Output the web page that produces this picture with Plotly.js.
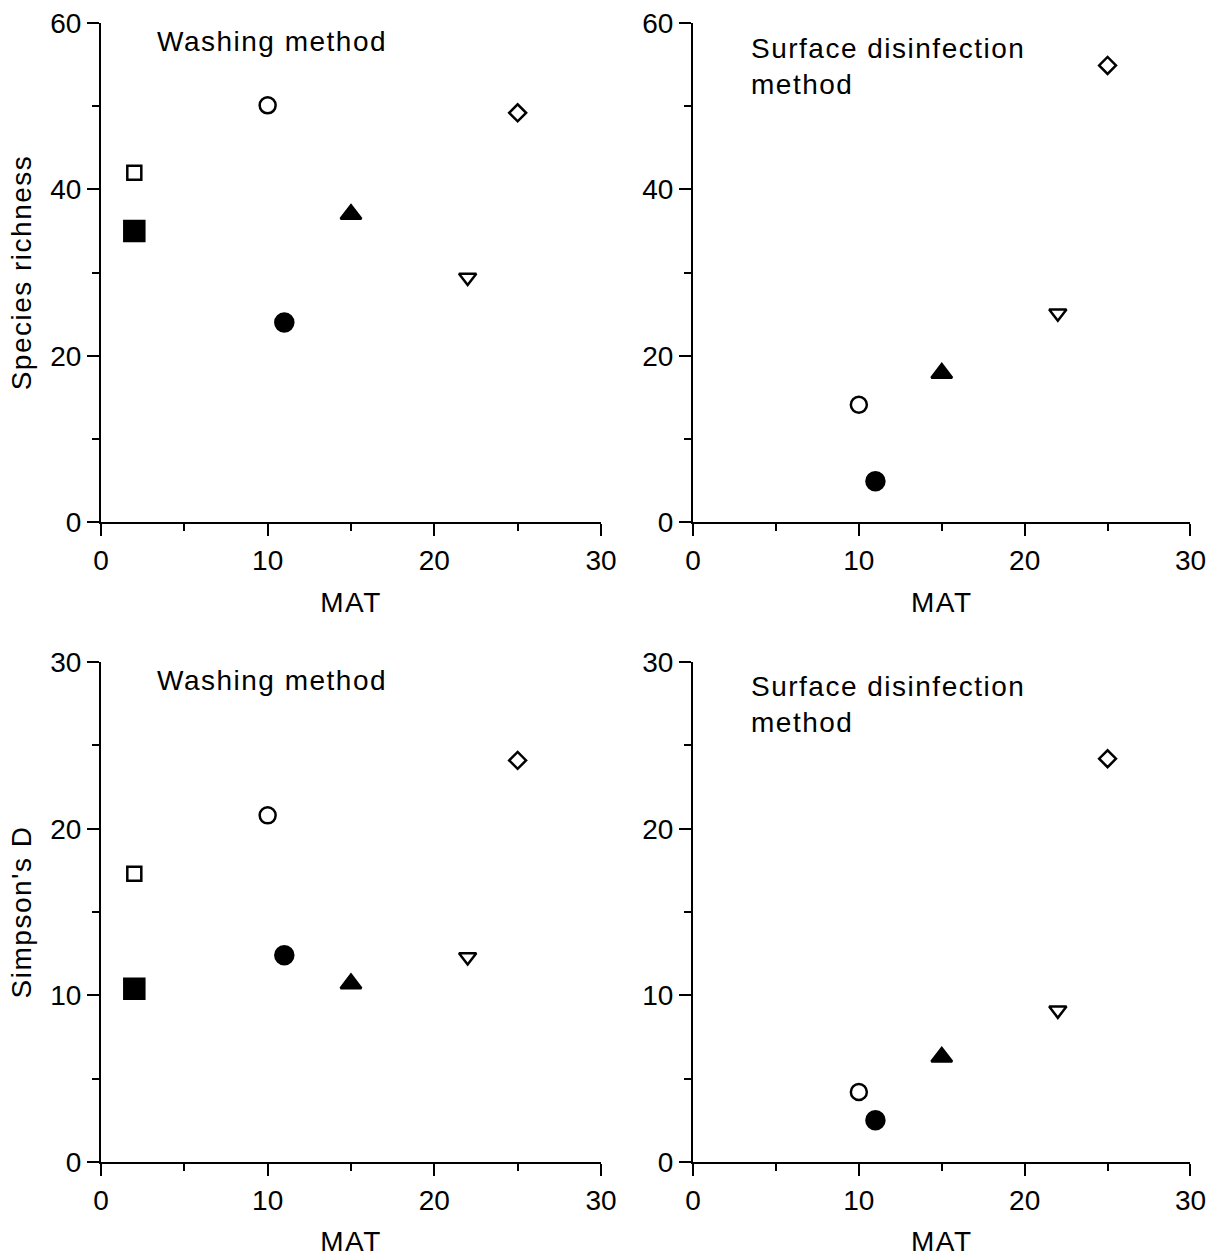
<!DOCTYPE html>
<html><head><meta charset="utf-8">
<script src="https://cdn.plot.ly/plotly-3.0.1.min.js"></script>
<style>body{margin:0;padding:0;background:#fff}#c{width:1221px;height:1257px}
#c .annotation-text, #c .xtitle, #c .x2title, #c .x3title, #c .x4title, #c .ytitle, #c .y3title { letter-spacing: 1.5px; }
</style>
</head><body><div id="c"></div>
<script>
// Data
const mat = [2, 2, 10, 11, 15, 22, 25];
const symbols = ['square-open', 'square', 'circle-open', 'circle', 'triangle-up', 'triangle-down-open', 'diamond-open'];
const sizes = [14, 20, 16, 18, 18, 15, 13];
const richnessWashing = [42, 35, 50.1, 24.0, 37.0, 29.4, 49.2];
const richnessSurface = [null, null, 14.1, 4.9, 17.9, 25.1, 54.9];
const simpsonWashing = [17.3, 10.4, 20.8, 12.4, 10.7, 12.3, 24.1];
const simpsonSurface = [null, null, 4.2, 2.5, 6.3, 9.1, 24.2];
const panelLabels = ['Washing method', 'Surface disinfection<br>method', 'Washing method', 'Surface disinfection<br>method'];

const F = 'Arial, "Liberation Sans", sans-serif';
const FS = 28;
function tr(y, xa, ya) {
  return {x: mat, y: y, xaxis: xa, yaxis: ya, type: 'scatter', mode: 'markers', cliponaxis: false,
    marker: {symbol: symbols, size: sizes, color: '#000', opacity: 1, line: {color: '#000', width: 2.5}}, hoverinfo: 'x+y'};
}
const data = [
  tr(richnessWashing, 'x', 'y'),
  tr(richnessSurface, 'x2', 'y2'),
  tr(simpsonWashing, 'x3', 'y3'),
  tr(simpsonSurface, 'x4', 'y4')
];
function xax(dom, anchor) {
  return {domain: dom, anchor: anchor, range: [0, 30], tickvals: [0, 10, 20, 30], showgrid: false, zeroline: false,
    showline: true, linecolor: '#000', linewidth: 2, ticks: 'outside', ticklen: 12, tickwidth: 2, tickcolor: '#000',
    minor: {tickvals: [5, 15, 25], ticks: 'outside', ticklen: 7, tickwidth: 2, tickcolor: '#000'},
    tickfont: {family: F, size: FS, color: '#000'},
    title: {text: 'MAT', font: {family: F, size: FS, color: '#000'}, standoff: 18}};
}
function yax(dom, anchor, max, title) {
  const st = max === 60 ? 20 : 10;
  return {domain: dom, anchor: anchor, range: [0, max], tickvals: [0, st, 2*st, 3*st], showgrid: false, zeroline: false,
    showline: true, linecolor: '#000', linewidth: 2, ticks: 'outside', ticklen: 12, tickwidth: 2, tickcolor: '#000',
    minor: {tickvals: [st/2, 1.5*st, 2.5*st], ticks: 'outside', ticklen: 7, tickwidth: 2, tickcolor: '#000'},
    tickfont: {family: F, size: FS, color: '#000'},
    title: {text: title, font: {family: F, size: FS, color: '#000'}, standoff: 10}};
}
const xl = [0.0827, 0.4922], xr = [0.5676, 0.9750];
const yt = [0.5847, 0.9817], yb = [0.0756, 0.4733];
function ann(xr_, yr_, x, y, txt) {
  return {xref: xr_, yref: yr_, x: x, y: y, xanchor: 'left', yanchor: 'middle', text: txt, showarrow: false,
    align: 'left', font: {family: F, size: FS, color: '#000'}};
}
const layout = {
  width: 1221, height: 1257, margin: {l: 0, r: 0, t: 0, b: 0}, showlegend: false,
  paper_bgcolor: '#fff', plot_bgcolor: '#fff', font: {family: F, color: '#000'},
  xaxis: xax(xl, 'y'), yaxis: yax(yt, 'x', 60, 'Species richness'),
  xaxis2: xax(xr, 'y2'), yaxis2: yax(yt, 'x2', 60, ''),
  xaxis3: xax(xl, 'y3'), yaxis3: yax(yb, 'x3', 30, "Simpson's D"),
  xaxis4: xax(xr, 'y4'), yaxis4: yax(yb, 'x4', 30, ''),
  annotations: [
    ann('x domain', 'y domain', 0.108, 0.962, panelLabels[0]),
    ann('x2 domain', 'y2 domain', 0.112, 0.912, panelLabels[1]),
    ann('x3 domain', 'y3 domain', 0.108, 0.964, panelLabels[2]),
    ann('x4 domain', 'y4 domain', 0.112, 0.916, panelLabels[3])
  ]
};
Plotly.newPlot('c', data, layout, {staticPlot: true});
</script></body></html>
